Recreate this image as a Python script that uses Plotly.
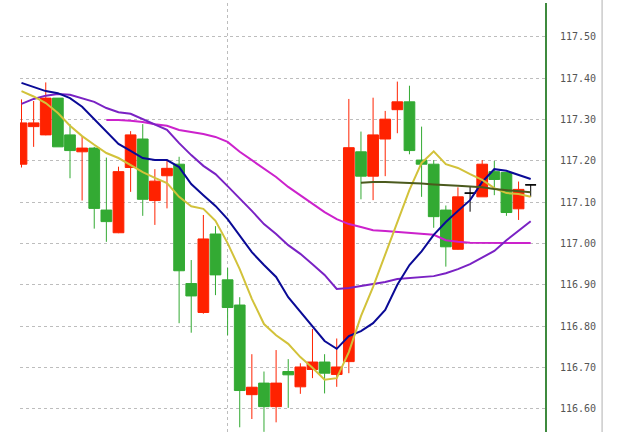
import plotly.graph_objects as go

# ---- data (prices) ----
idx = list(range(43))
opens = [117.192, 117.283, 117.263, 117.352, 117.263, 117.222, 117.231, 117.081, 117.026, 117.184,
         117.253, 117.104, 117.164, 117.192, 116.903, 116.833, 117.023, 116.912, 116.851, 116.634,
         116.662, 116.605, 116.690, 116.653, 116.695, 116.713, 116.683, 116.714, 117.222, 117.163,
         117.253, 117.324, 117.343, 117.202, 117.192, 117.081, 116.986, 117.122, 117.113, 117.174,
         117.172, 117.084, 117.142]
highs = [117.349, 117.345, 117.390, 117.352, 117.289, 117.260, 117.234, 117.208, 117.186, 117.272,
         117.289, 117.180, 117.200, 117.210, 116.960, 117.069, 117.042, 116.941, 116.870, 116.732,
         116.690, 116.742, 116.720, 116.710, 116.793, 116.732, 116.770, 117.350, 117.271, 117.353,
         117.321, 117.392, 117.382, 117.283, 117.202, 117.092, 117.136, 117.138, 117.202, 117.200,
         117.172, 117.150, 117.142]
lows = [117.184, 117.234, 117.262, 117.234, 117.158, 117.104, 117.036, 117.004, 117.025, 117.125,
        117.067, 117.045, 117.085, 116.807, 116.784, 116.830, 116.875, 116.778, 116.555, 116.575,
        116.544, 116.567, 116.602, 116.636, 116.674, 116.637, 116.653, 116.686, 117.107, 117.105,
        117.163, 117.267, 117.216, 117.113, 117.038, 116.944, 116.985, 117.077, 117.113, 117.117,
        117.067, 117.057, 117.113]
closes = [117.292, 117.292, 117.352, 117.234, 117.225, 117.231, 117.085, 117.053, 117.174, 117.263,
          117.107, 117.151, 117.182, 116.934, 116.873, 117.011, 116.924, 116.845, 116.644, 116.652,
          116.605, 116.662, 116.682, 116.701, 116.713, 116.686, 116.701, 117.232, 117.163, 117.263,
          117.301, 117.343, 117.225, 117.192, 117.065, 116.992, 117.113, 117.122, 117.192, 117.155,
          117.075, 117.131, 117.142]

ma_yellow = [117.369, 117.356, 117.340, 117.316, 117.285, 117.260, 117.239, 117.219, 117.207, 117.190,
             117.173, 117.159, 117.146, 117.113, 117.090, 117.084, 117.055, 117.001, 116.938, 116.866,
             116.805, 116.778, 116.757, 116.725, 116.699, 116.670, 116.674, 116.737, 116.824, 116.895,
             116.972, 117.052, 117.130, 117.195, 117.223, 117.192, 117.183, 117.168, 117.154, 117.134,
             117.122, 117.120, 117.113]
ma_blue = [117.389, 117.379, 117.369, 117.364, 117.352, 117.331, 117.301, 117.270, 117.241, 117.224,
           117.207, 117.202, 117.202, 117.185, 117.144, 117.117, 117.091, 117.059, 117.018, 116.979,
           116.948, 116.919, 116.870, 116.834, 116.798, 116.764, 116.745, 116.776, 116.788, 116.807,
           116.839, 116.900, 116.948, 116.981, 117.021, 117.052, 117.079, 117.105, 117.149, 117.180,
           117.176, 117.166, 117.156]
ma_purple = [117.338, 117.350, 117.358, 117.362, 117.360, 117.352, 117.343, 117.328, 117.318, 117.314,
             117.301, 117.287, 117.275, 117.243, 117.214, 117.188, 117.168, 117.139, 117.110, 117.079,
             117.047, 117.023, 116.996, 116.975, 116.950, 116.924, 116.890, 116.892, 116.897, 116.902,
             116.907, 116.914, 116.916, 116.919, 116.921, 116.928, 116.938, 116.950, 116.965, 116.982,
             117.008, 117.032, 117.054]
ma_magenta = [None] * 7 + [
    117.299, 117.299, 117.297, 117.294, 117.289, 117.285, 117.275, 117.270, 117.265, 117.258,
    117.246, 117.222, 117.202, 117.183, 117.161, 117.137, 117.117, 117.096, 117.076, 117.059,
    117.047, 117.040, 117.032, 117.030, 117.028, 117.025, 117.024, 117.021, 117.008, 117.004,
    117.002, 117.002, 117.001, 117.001, 117.001, 117.001]
line_olive = [None] * 28 + [
    117.147, 117.149, 117.149, 117.148, 117.146, 117.145, 117.143, 117.142, 117.140, 117.138,
    117.136, 117.132, 117.129, 117.126, 117.124]

y_ticks = [116.60, 116.70, 116.80, 116.90, 117.00, 117.10, 117.20, 117.30, 117.40, 117.50]
session_break = [17]

# ---- split candles by direction ----
def subset(cond):
    sel = [i for i in idx if cond(opens[i], closes[i])]
    return ([idx[i] for i in sel], [opens[i] for i in sel], [highs[i] for i in sel],
            [lows[i] for i in sel], [closes[i] for i in sel])

up = subset(lambda o, c: c > o)
down = subset(lambda o, c: c < o)
doji = subset(lambda o, c: c == o)

fig = go.Figure()

for vals, col in [(ma_magenta, "#CC22CC"), (ma_purple, "#7A22C4"), (ma_blue, "#0A0A96"),
                  (ma_yellow, "#D2C23A"), (line_olive, "#4B5A1E")]:
    fig.add_trace(go.Scatter(x=idx, y=vals, mode="lines", line=dict(color=col, width=2),
                             connectgaps=False, hoverinfo="skip", showlegend=False))

def add_candles(data, inc, dec):
    x, o, h, l, c = data
    fig.add_trace(go.Candlestick(
        x=x, open=o, high=h, low=l, close=c,
        increasing=dict(line=dict(color=inc, width=1), fillcolor=inc),
        decreasing=dict(line=dict(color=dec, width=1), fillcolor=dec),
        whiskerwidth=0, showlegend=False))

add_candles(up, "#FF2200", "#FF2200")
add_candles(down, "#33AA33", "#33AA33")
add_candles(doji, "#000000", "#000000")

fig.update_layout(
    width=620, height=432,
    margin=dict(l=20, r=75, t=3, b=0),
    paper_bgcolor="white", plot_bgcolor="white",
    showlegend=False,
    boxgap=0.06, boxgroupgap=0.06,
    xaxis=dict(range=[-0.124, 43.18], rangeslider=dict(visible=False),
               showticklabels=False, ticks="", zeroline=False, showline=False,
               tickmode="array", tickvals=session_break,
               showgrid=True, gridcolor="#BDBDBD", griddash="3px,3px", gridwidth=1),
    yaxis=dict(range=[116.5436, 117.5823], side="right",
               tickmode="array", tickvals=y_ticks, tickformat=".2f",
               showgrid=True, gridcolor="#BDBDBD", griddash="3px,3px", gridwidth=1,
               zeroline=False, showline=True, linecolor="#3E8A3E", linewidth=2,
               ticks="", ticklabelstandoff=11,
               tickfont=dict(family="DejaVu Sans Mono", size=10, color="#555555")),
    shapes=[dict(type="line", xref="paper", yref="paper", x0=1.1087, x1=1.1087, y0=0, y1=1.007,
                 line=dict(color="#B0B0B0", width=1))],
)

fig.write_html("out.html", config={"displayModeBar": False},
               post_script="document.body.style.margin='0';")
